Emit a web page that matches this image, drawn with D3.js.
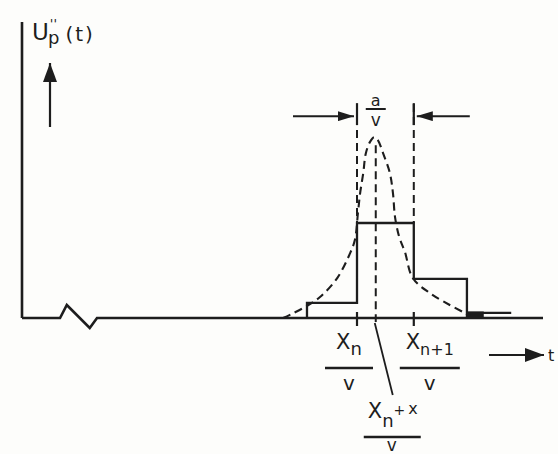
<!DOCTYPE html>
<html>
<head>
<meta charset="utf-8">
<script src="https://cdn.jsdelivr.net/npm/d3@7"></script>
<style>
  html, body { margin: 0; padding: 0; background: #fdfdfb; }
  svg { display: block; }
</style>
</head>
<body>
<script>
// Staircase approximation of U''p(t): bin edges (time units) and bin heights
const binEdges   = [54.7, 64.3, 75.2, 85.4, 93.9];
const binHeights = [5.1, 32.1, 13.2, 1.7];

// Continuous pulse U''p(t), drawn dashed
const pulseT = [50.1, 51.8, 54.7, 57.2, 60.5, 63.0, 63.9, 64.5, 64.9, 65.5, 66.0, 66.8, 67.6,
                68.3, 69.3, 70.6, 71.2, 71.6, 72.4, 73.5, 75.0, 78.3, 82.1, 85.0, 86.0];
const pulseU = [0.0, 1.4, 4.1, 7.1, 13.5, 22.0, 26.4, 35.8, 42.2, 49.0, 55.7, 59.5, 61.1,
                60.1, 55.7, 49.0, 42.2, 34.1, 27.4, 22.3, 13.5, 8.4, 4.4, 1.7, 0.7];

// Marked instants on the time axis: x_n/v, (x_n + x)/v, x_(n+1)/v
const markTimes = [64.3, 67.9, 75.2];

const W = 558, H = 454;
const ink = "#1d1d1d";

const x = d3.scaleLinear().domain([0, 100]).range([22, 543]);
const y = d3.scaleLinear().domain([0, 100]).range([318, 22]);

const svg = d3.select("body").append("svg")
  .attr("width", W).attr("height", H)
  .style("background", "#fdfdfb");

const defs = svg.append("defs");
defs.append("marker")
  .attr("id", "head")
  .attr("viewBox", "0 0 16 10")
  .attr("refX", 16).attr("refY", 5)
  .attr("markerWidth", 16).attr("markerHeight", 10)
  .attr("markerUnits", "userSpaceOnUse")
  .attr("orient", "auto")
  .append("path").attr("d", "M0,0 L16,5 L0,10 Z").attr("fill", ink);
defs.append("marker")
  .attr("id", "headBig")
  .attr("viewBox", "0 0 19 14")
  .attr("refX", 19).attr("refY", 7)
  .attr("markerWidth", 19).attr("markerHeight", 14)
  .attr("markerUnits", "userSpaceOnUse")
  .attr("orient", "auto")
  .append("path").attr("d", "M0,0 L19,7 L0,14 Z").attr("fill", ink);

const g = svg.append("g").attr("fill", "none").attr("stroke", ink).attr("stroke-linecap", "butt");

// ---- axes ----
// vertical axis
g.append("line")
  .attr("x1", x(0)).attr("x2", x(0))
  .attr("y1", y(100)).attr("y2", y(0))
  .attr("stroke-width", 2.6);

// time axis with a break (zigzag) near the origin
const brk = [[7.3, 0], [8.6, 13], [13.0, -10], [14.4, 0]]; // [t, pixel offset up]
const axisPts = [[x(0), y(0)]]
  .concat(brk.map(d => [x(d[0]), y(0) - d[1]]))
  .concat([[x(100), y(0)]]);
g.append("path")
  .attr("d", d3.line()(axisPts))
  .attr("stroke-width", 2.6)
  .attr("stroke-linejoin", "miter");

// ---- staircase ----
const stairPts = [[binEdges[0], 0]];
binHeights.forEach((h, i) => {
  stairPts.push([binEdges[i], h]);
  stairPts.push([binEdges[i + 1], h]);
});
const lineXY = d3.line().x(d => x(d[0])).y(d => y(d[1]));
g.append("path")
  .attr("d", lineXY(stairPts.slice(0, stairPts.length - 1).concat([[binEdges[3], 0]])))
  .attr("stroke-width", 2.3)
  .attr("stroke-linejoin", "miter");
// last, very low bin
const last = binHeights.length - 1;
g.append("line")
  .attr("x1", x(binEdges[last])).attr("x2", x(binEdges[last + 1]))
  .attr("y1", y(binHeights[last])).attr("y2", y(binHeights[last]))
  .attr("stroke-width", 2.2);
g.append("rect")
  .attr("x", x(binEdges[last])).attr("y", y(binHeights[last]) - 1.5)
  .attr("width", (x(binEdges[last + 1]) - x(binEdges[last])) * 0.38)
  .attr("height", y(0) - y(binHeights[last]) + 1.5)
  .attr("fill", ink).attr("stroke", "none");

// ---- continuous pulse (dashed) ----
const pulse = pulseT.map((t, i) => [t, pulseU[i]]);
g.append("path")
  .attr("d", d3.line().x(d => x(d[0])).y(d => y(d[1])).curve(d3.curveCatmullRom.alpha(0.5))(pulse))
  .attr("stroke-width", 2.1)
  .attr("stroke-dasharray", "8,5");

// ---- dashed guide lines at the marked instants ----
const guideTop = 72.3;
// x_n/v : down to the top of the tall bin
g.append("line")
  .attr("x1", x(markTimes[0])).attr("x2", x(markTimes[0]))
  .attr("y1", y(guideTop)).attr("y2", y(binHeights[1]))
  .attr("stroke-width", 2).attr("stroke-dasharray", "8,5");
// (x_n + x)/v : from below the peak through the axis
g.append("line")
  .attr("x1", x(markTimes[1])).attr("x2", x(markTimes[1]))
  .attr("y1", y(58.4)).attr("y2", y(0) + 4)
  .attr("stroke-width", 2).attr("stroke-dasharray", "8,5");
// x_(n+1)/v : down to the top of the tall bin
g.append("line")
  .attr("x1", x(markTimes[2])).attr("x2", x(markTimes[2]))
  .attr("y1", y(guideTop)).attr("y2", y(binHeights[1]))
  .attr("stroke-width", 2).attr("stroke-dasharray", "8,5");

// small ticks at x_n/v and x_(n+1)/v on the axis
[markTimes[0], markTimes[2]].forEach(t => {
  g.append("line")
    .attr("x1", x(t)).attr("x2", x(t))
    .attr("y1", y(0) - 6).attr("y2", y(0) + 8)
    .attr("stroke-width", 2.2);
});

// ---- bin width a/v dimension ----
const annY = y(68.2);
g.append("line")
  .attr("x1", x(markTimes[0]) - 64).attr("x2", x(markTimes[0]) - 3)
  .attr("y1", annY).attr("y2", annY)
  .attr("stroke-width", 2).attr("marker-end", "url(#head)");
g.append("line")
  .attr("x1", x(markTimes[2]) + 56).attr("x2", x(markTimes[2]) + 3)
  .attr("y1", annY).attr("y2", annY)
  .attr("stroke-width", 2).attr("marker-end", "url(#head)");
[markTimes[0], markTimes[2]].forEach(t => {
  g.append("line")
    .attr("x1", x(t)).attr("x2", x(t))
    .attr("y1", annY - 13).attr("y2", annY + 9)
    .attr("stroke-width", 2.2);
});

// ---- arrows: U up, t right ----
g.append("line")
  .attr("x1", 50).attr("x2", 50).attr("y1", 127).attr("y2", 63)
  .attr("stroke-width", 2.2).attr("marker-end", "url(#headBig)");
g.append("line")
  .attr("x1", 489).attr("x2", 544).attr("y1", 355).attr("y2", 355)
  .attr("stroke-width", 2.2).attr("marker-end", "url(#headBig)");

// leader from the center instant to its label
g.append("line")
  .attr("x1", x(markTimes[1]) - 1).attr("y1", y(0) + 5)
  .attr("x2", x(markTimes[1]) + 17).attr("y2", 395)
  .attr("stroke-width", 1.8);

// ---- labels ----
const T = svg.append("g").attr("fill", ink)
  .attr("font-family", "'DejaVu Sans', sans-serif");

// vertical axis title U''p(t): double prime stacked over the subscript p
const ttl = T.append("text").attr("x", 32).attr("y", 40);
ttl.append("tspan").attr("font-size", 23).text("U");
ttl.append("tspan").attr("font-size", 13).attr("dx", 1).attr("dy", -12).text("''");
ttl.append("tspan").attr("font-size", 18).attr("dx", -9).attr("dy", 16).text("p");
ttl.append("tspan").attr("font-size", 20).attr("dx", 6).attr("dy", -3)
  .attr("letter-spacing", 2).text("(t)");

// fraction helper: numerator pieces, bar, denominator "v"
function fraction(cx, barY, barHalf, numParts) {
  const tx = T.append("text").attr("x", cx).attr("y", barY - 6)
    .attr("text-anchor", "middle");
  numParts.forEach(p => {
    tx.append("tspan").attr("font-size", p.size).attr("dy", p.dy || 0).text(p.s);
  });
  g.append("line")
    .attr("x1", cx - barHalf).attr("x2", cx + barHalf)
    .attr("y1", barY).attr("y2", barY)
    .attr("stroke-width", 2.6);
  T.append("text").attr("x", cx).attr("y", barY + 22)
    .attr("text-anchor", "middle").attr("font-size", 20).text("v");
}

// a/v above the tall bin
T.append("text").attr("x", x(markTimes[1])).attr("y", 106)
  .attr("text-anchor", "middle").attr("font-size", 16).text("a");
g.append("line")
  .attr("x1", x(markTimes[1]) - 10).attr("x2", x(markTimes[1]) + 10)
  .attr("y1", 109).attr("y2", 109).attr("stroke-width", 2);
T.append("text").attr("x", x(markTimes[1])).attr("y", 126)
  .attr("text-anchor", "middle").attr("font-size", 17).text("v");

// x_n / v
fraction(x(markTimes[0]) - 8, 368, 24, [
  { s: "X", size: 21, dy: -13 },
  { s: "n", size: 18, dy: 6 }
]);
// x_(n+1) / v
fraction(x(markTimes[2]) + 16, 368, 30, [
  { s: "X", size: 21, dy: -13 },
  { s: "n+1", size: 16, dy: 6 }
]);
// (x_n + x) / v
const cxx = x(markTimes[1]) + 16;
const t3 = T.append("text").attr("x", cxx - 24).attr("y", 418);
t3.append("tspan").attr("font-size", 21).text("X");
t3.append("tspan").attr("font-size", 18).attr("dy", 9).text("n");
t3.append("tspan").attr("font-size", 14).attr("dy", -12).text("+");
t3.append("tspan").attr("font-size", 16).attr("dx", 3).attr("dy", -1).text("x");
g.append("line")
  .attr("x1", cxx - 28).attr("x2", cxx + 29)
  .attr("y1", 437).attr("y2", 437).attr("stroke-width", 2.6);
T.append("text").attr("x", cxx).attr("y", 451)
  .attr("text-anchor", "middle").attr("font-size", 17).text("v");

// time axis name
T.append("text").attr("x", 548).attr("y", 361).attr("font-size", 16).text("t");
</script>
</body>
</html>
